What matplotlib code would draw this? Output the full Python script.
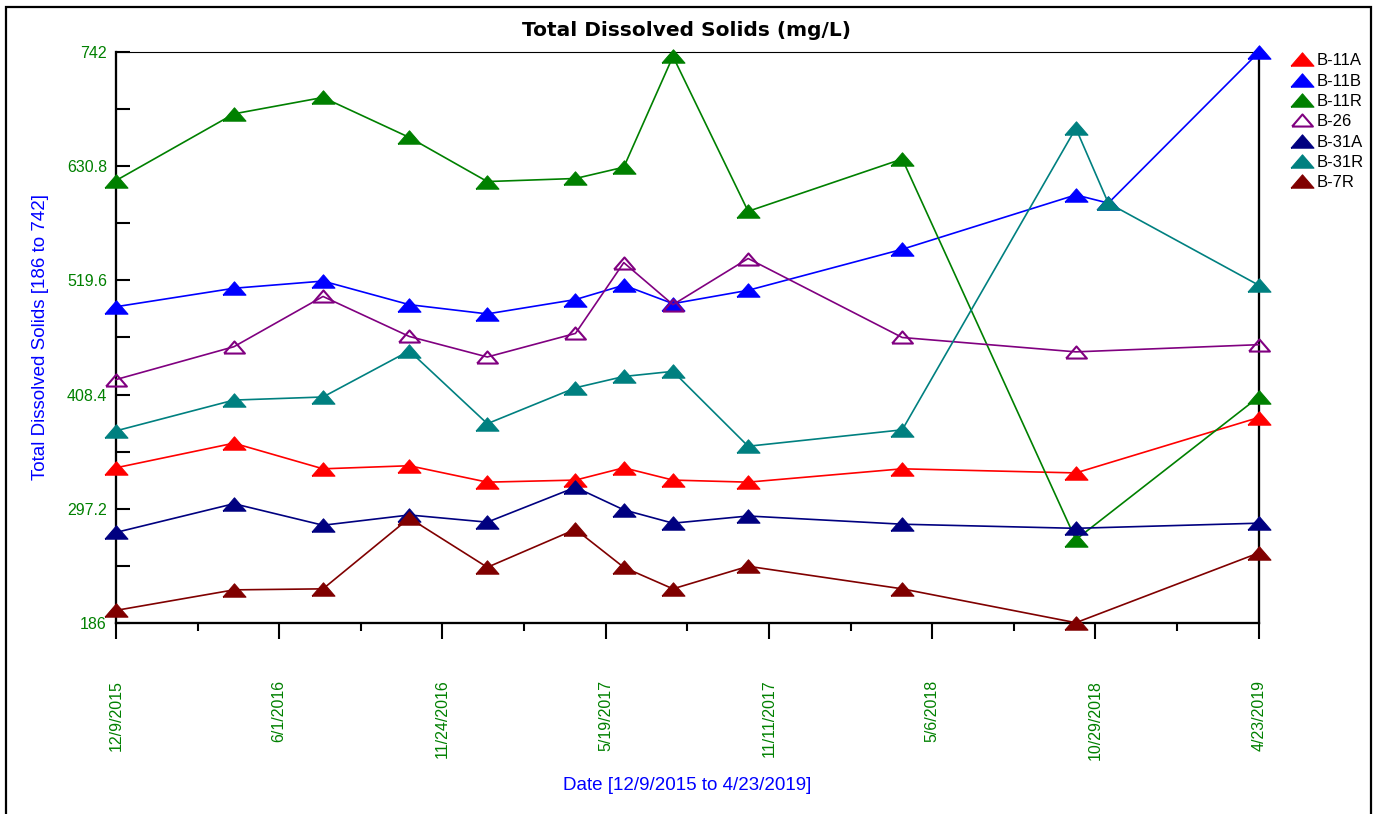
import numpy as np
import matplotlib
matplotlib.use("Agg")
import matplotlib.pyplot as plt
import matplotlib.dates as mdates
from matplotlib.lines import Line2D
from matplotlib.patches import Rectangle
from datetime import datetime

plt.rcParams["font.family"] = ["Liberation Sans", "DejaVu Sans"]

# Sampling dates (most wells share these; B-11B and B-31R have one extra in Nov 2018)
dates_common = ["2015-12-09", "2016-04-14", "2016-07-19", "2016-10-20", "2017-01-12",
                "2017-04-17", "2017-06-08", "2017-07-31", "2017-10-20", "2018-04-04",
                "2018-10-08", "2019-04-23"]
dates_extra = ["2015-12-09", "2016-04-14", "2016-07-19", "2016-10-20", "2017-01-12",
               "2017-04-17", "2017-06-08", "2017-07-31", "2017-10-20", "2018-04-04",
               "2018-10-08", "2018-11-12", "2019-04-23"]

# Total dissolved solids, mg/L
tds_b11a = [337, 361, 336, 339, 323, 325, 337, 325, 323, 336, 332, 386]
tds_b11b = [494, 512, 519, 496, 487, 501, 515, 497, 510, 550, 603, 595, 742]
tds_b11r = [617, 682, 698, 659, 616, 619, 630, 738, 587, 638, 267, 406]
tds_b26 = [423, 455, 504, 465, 445, 468, 537, 496, 541, 464, 450, 457]
tds_b31a = [274, 302, 281, 291, 284, 318, 296, 283, 290, 282, 278, 283]
tds_b31r = [373, 403, 406, 451, 380, 415, 426, 431, 358, 374, 668, 595, 515]
tds_b7r = [198, 218, 219, 288, 240, 277, 240, 219, 241, 219, 186, 254]

well_names = ["B-11A", "B-11B", "B-11R", "B-26", "B-31A", "B-31R", "B-7R"]
well_colors = ["#ff0000", "#0000ff", "#008000", "#800080", "#000080", "#008080", "#800000"]
well_values = [tds_b11a, tds_b11b, tds_b11r, tds_b26, tds_b31a, tds_b31r, tds_b7r]
well_dates = [dates_common, dates_extra, dates_common, dates_common,
              dates_common, dates_extra, dates_common]
well_open = [False, False, False, True, False, False, False]

y_min, y_max = 186, 742
date_start, date_end = "2015-12-09", "2019-04-23"
x_tick_labels = ["12/9/2015", "6/1/2016", "11/24/2016", "5/19/2017",
                 "11/11/2017", "5/6/2018", "10/29/2018", "4/23/2019"]
y_tick_labels = ["186", "297.2", "408.4", "519.6", "630.8", "742"]

GREEN = "#008000"
BLUE = "#0000ff"

# flat triangle marker
tri = [(-1.0, -0.58), (1.0, -0.58), (0.0, 0.58), (-1.0, -0.58)]

W, H = 1374, 814
fig = plt.figure(figsize=(W / 100, H / 100), dpi=100)
left, right, top, bottom = 116.0, 1258.7, 52.3, 622.7
ax = fig.add_axes([left / W, 1 - bottom / H, (right - left) / W, (bottom - top) / H])


def to_num(ds):
    return mdates.date2num([datetime.strptime(d, "%Y-%m-%d") for d in ds])


handles = []
for name, col, vals, ds, is_open in zip(well_names, well_colors, well_values,
                                         well_dates, well_open):
    style = dict(marker=tri, color=col, markersize=15.0 if is_open else 16.5,
                 markeredgecolor=col,
                 markerfacecolor="none" if is_open else col,
                 markeredgewidth=1.5 if is_open else 0.8)
    ax.plot(to_num(ds), vals, lw=1.2, clip_on=False, zorder=3, **style)
    handles.append(Line2D([], [], ls="none", **style))

x0, x1 = to_num([date_start, date_end])
ax.set_xlim(x0, x1)
ax.set_ylim(y_min, y_max)

xt = np.linspace(x0, x1, len(x_tick_labels))
ax.set_xticks(xt)
ax.set_xticklabels(x_tick_labels)
ax.set_xticks((xt[:-1] + xt[1:]) / 2, minor=True)

yt = np.linspace(y_min, y_max, len(y_tick_labels))
ax.set_yticks(yt)
ax.set_yticklabels(y_tick_labels)
ax.set_yticks((yt[:-1] + yt[1:]) / 2, minor=True)

ax.tick_params(axis="y", which="both", direction="in", length=10, width=1.5,
               pad=6.5, labelcolor=GREEN, labelsize=11.5)
ax.tick_params(axis="x", which="major", direction="out", length=11.5, width=1.5,
               pad=29.5, labelcolor=GREEN, labelsize=11.5, labelrotation=90)
ax.tick_params(axis="x", which="minor", direction="out", length=5.8, width=1.5)

for s in ("left", "bottom", "right"):
    ax.spines[s].set_linewidth(1.65)
ax.spines["top"].set_linewidth(0.8)

ax.set_xlabel("Date [12/9/2015 to 4/23/2019]", color=BLUE, fontsize=13.5)
ax.xaxis.label.set_va("center")
ax.xaxis.set_label_coords(0.5, (bottom - 785) / (bottom - top))

ax.set_ylabel("Total Dissolved Solids [186 to 742]", color=BLUE, fontsize=13.5)
ax.yaxis.label.set_va("center")
ax.yaxis.set_label_coords((40 - left) / (right - left), 0.5)

fig.text(686.7 / W, 1 - 36 / H, "Total Dissolved Solids (mg/L)", ha="center",
         va="baseline", fontsize=14.5, fontweight="bold", family="DejaVu Sans")

fig.legend(handles, well_names, loc="upper left",
           bbox_to_anchor=(1290 / W, 1 - 53.3 / H), frameon=False,
           borderaxespad=0, borderpad=0, handlelength=1.44, handletextpad=0.18,
           labelspacing=0.32, fontsize=12)

fig.patches.append(Rectangle((5.5 / W, -0.05), (1371.3 - 5.5) / W,
                             1.05 - 7.3 / H, transform=fig.transFigure,
                             fill=False, lw=1.6, ec="black"))

fig.savefig("out.png", dpi=100)
